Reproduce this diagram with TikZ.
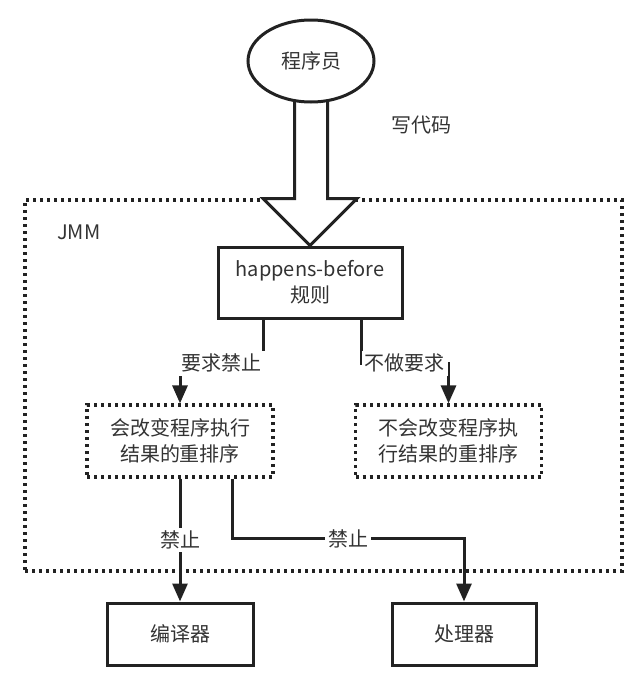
\documentclass[tikz,border=0pt]{standalone}
\usepackage{fontspec}
\setmainfont{Noto Sans CJK SC}
\usepackage{tikz}
\usetikzlibrary{positioning,arrows.meta,calc,shapes.geometric,backgrounds}
\definecolor{ink}{HTML}{222222}
\definecolor{txt}{HTML}{333333}

\begin{document}
\begin{tikzpicture}[x=0.5pt, y=-0.5pt, >={Triangle[width=7.5pt,length=9pt]},
  font=\fontsize{10}{13}\selectfont, text=txt,
  solidbox/.style={draw=ink, line width=1.5pt, align=center, fill=white},
  dotbox/.style={draw=ink, line width=1.6pt, dash pattern=on 1.5pt off 2pt, align=center},
  flow/.style={draw=ink, line width=1.5pt, ->},
  lbl/.style={fill=white, inner sep=1.5pt}]
  \useasboundingbox (0,0) rectangle (640,680);

  \node[solidbox, ellipse, minimum width=63pt, minimum height=41pt, inner sep=0pt] (prog) at (311,61) {程序员};
  \node[solidbox, minimum width=92pt, minimum height=35.5pt] (hb) at (310,282.5) {happens-before\\规则};
  \node (code) at (421,125) {写代码};

  % JMM frame and big arrow
  \begin{scope}[on background layer]
    \node[dotbox, minimum width=298.5pt, minimum height=185.5pt] (jmm) at (323.5,385.5) {};
    \draw[draw=ink, line width=1.5pt, fill=white, line join=miter]
      ([xshift=-8.25pt]prog.center) |- ([shift={(-23.5pt,23.5pt)}]hb.north) -- (hb.north)
      -- ([shift={(23.5pt,23.5pt)}]hb.north) -| ([xshift=8.25pt]prog.center);
  \end{scope}
  \node[anchor=west] (jmmlbl) at (50,232) {JMM};

  \node[dotbox, minimum width=93pt, minimum height=36pt] (reorder) at (180,441) {会改变程序执行\\结果的重排序};
  \node[dotbox, minimum width=93pt, minimum height=36pt] (noreorder) at (448.5,441) {不会改变程序执\\行结果的重排序};

  \node[solidbox, minimum width=73pt, minimum height=31pt] (compiler) at (180,634) {编译器};
  \node[solidbox, minimum width=72pt, minimum height=31pt] (cpu) at (464,634) {处理器};

  \draw[flow] ([xshift=-23.5pt]hb.south) |- ([yshift=20pt]reorder.north)
    node[lbl, pos=0.75] {要求禁止} -- (reorder.north);
  \draw[flow] ([xshift=25.5pt]hb.south) |- ([yshift=20pt]noreorder.north)
    node[lbl, pos=0.75] {不做要求} -- (noreorder.north);
  \draw[flow] (reorder.south) -- node[lbl] {禁止} (compiler.north);
  \draw[flow] ([xshift=26pt]reorder.south) |- ([yshift=31.5pt]cpu.north)
    node[lbl, pos=0.75] {禁止} -- (cpu.north);
\end{tikzpicture}
\end{document}
